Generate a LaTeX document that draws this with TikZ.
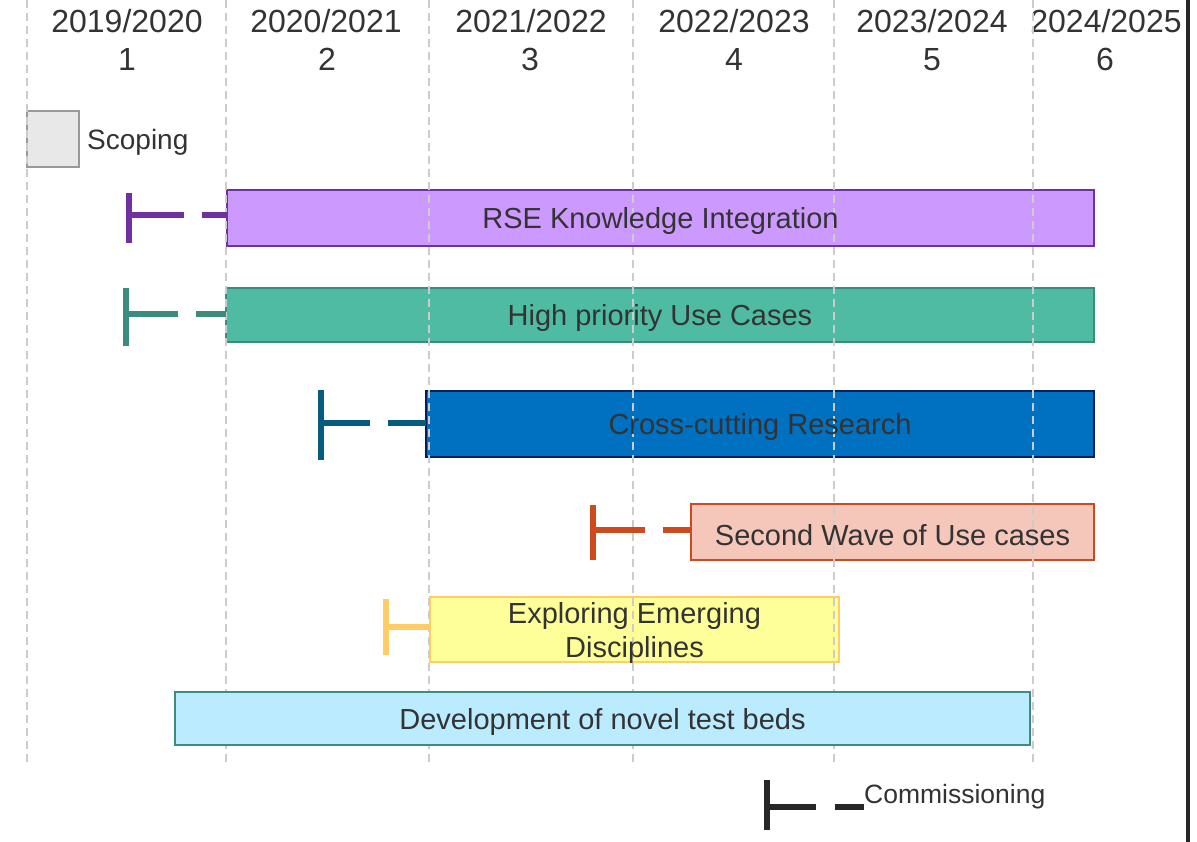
\documentclass[tikz,border=0pt]{standalone}
\usepackage{fontspec}
\setmainfont{Liberation Sans}
\begin{document}
\begin{tikzpicture}[x=1pt,y=-1pt,
  txt/.style={text=txtc, inner sep=0pt},
  hdr/.style={txt, font=\fontsize{32}{38}\selectfont, anchor=base},
  bar/.style={line width=2pt, inner sep=0pt, outer sep=0pt, anchor=north west},
  lbl/.style={text=txtc, font=\fontsize{29}{34}\selectfont, align=center, inner sep=0pt, yshift=-3.5pt},
  grid line/.style={draw=gridc, line width=1.3pt, dash pattern=on 8pt off 5pt},
  whisk/.style={line width=5.5pt},
  tick/.style={line width=6pt}
]
\definecolor{txtc}{HTML}{333333}
\definecolor{gridc}{HTML}{CCCCCC}
\definecolor{purF}{HTML}{CC99FF}\definecolor{purD}{HTML}{7030A0}
\definecolor{tealF}{HTML}{50BBA3}\definecolor{tealD}{HTML}{3A8C7C}
\definecolor{blueF}{HTML}{0070C0}\definecolor{blueD}{HTML}{002060}\definecolor{blueW}{HTML}{065C7E}
\definecolor{salF}{HTML}{F4C7BA}\definecolor{salD}{HTML}{CC4A1E}
\definecolor{yelF}{HTML}{FFFF99}\definecolor{yelD}{HTML}{FFCC66}
\definecolor{cyF}{HTML}{BBEBFF}\definecolor{cyD}{HTML}{3E8C7E}
\definecolor{darkc}{HTML}{262626}
\useasboundingbox (0,0) rectangle (1197,842);
\fill[white] (0,0) rectangle (1197,842);

% headers
\node[hdr] (h1) at (127,33) {2019/2020};
\node[hdr] (h2) at (326,33) {2020/2021};
\node[hdr] (h3) at (531,33) {2021/2022};
\node[hdr] (h4) at (734,33) {2022/2023};
\node[hdr] (h5) at (932,33) {2023/2024};
\node[hdr] (h6) at (1106,33) {2024/2025};
\node[hdr] (n1) at (127,71) {1};
\node[hdr] (n2) at (327,71) {2};
\node[hdr] (n3) at (530,71) {3};
\node[hdr] (n4) at (734,71) {4};
\node[hdr] (n5) at (932,71) {5};
\node[hdr] (n6) at (1105,71) {6};

% scoping legend
\node[draw=black!40, fill=black!9, line width=2pt, minimum width=52pt, minimum height=56pt, inner sep=0pt, anchor=north west] (scope) at (26,110) {};
\node[txt, font=\fontsize{28}{32}\selectfont, anchor=west] (scopet) at (87,142) {Scoping};

% bars
\node[bar, fill=purF, draw=purD, minimum width=867pt, minimum height=56pt] (rse) at (227,190) {};
\node[bar, fill=tealF, draw=tealD, minimum width=868pt, minimum height=54pt] (hp) at (226,288) {};
\node[bar, fill=blueF, draw=blueD, minimum width=668pt, minimum height=66pt] (cc) at (426,391) {};
\node[bar, fill=salF, draw=salD, minimum width=403pt, minimum height=56pt] (sw) at (691,504) {};
\node[bar, fill=yelF, draw=yelD, minimum width=409pt, minimum height=65pt] (exp) at (430,597) {};

% grid lines
\foreach \gx in {27,226,429,633,834,1033}
  \draw[grid line] (\gx,0) -- (\gx,767);

% development bar (over grid)
\node[bar, fill=cyF, draw=cyD, minimum width=855pt, minimum height=53pt] (dev) at (175,692) {};

% bar labels
\node[lbl] (rset) at (rse.center) {RSE Knowledge Integration};
\node[lbl] (hpt) at (hp.center) {High priority Use Cases};
\node[lbl] (cct) at (cc.center) {Cross-cutting Research};
\node[lbl] (swt) at (sw.center) {Second Wave of Use cases};
\node[lbl] (expt) at (exp.center) {Exploring Emerging\\Disciplines};
\node[lbl] (devt) at (dev.center) {Development of novel test beds};

% whiskers
\coordinate (wrse) at (129,215);
\draw[tick, purD] (129,193) -- (129,243);
\draw[whisk, purD, dash pattern=on 55pt off 18pt on 200pt] (wrse) -- (rse.west |- wrse);

\coordinate (whp) at (126,314);
\draw[tick, tealD] (126,288) -- (126,346);
\draw[whisk, tealD, dash pattern=on 52pt off 18pt on 200pt] (whp) -- (hp.west |- whp);

\coordinate (wcc) at (321,423);
\draw[tick, blueW] (321,390) -- (321,460);
\draw[whisk, blueW, dash pattern=on 49pt off 18pt on 200pt] (wcc) -- (cc.west |- wcc);

\coordinate (wsw) at (593,530);
\draw[tick, salD] (593,505) -- (593,560);
\draw[whisk, salD, dash pattern=on 52pt off 18pt on 200pt] (wsw) -- (sw.west |- wsw);

\coordinate (wexp) at (386,627);
\draw[tick, yelD] (386,599) -- (386,655);
\draw[whisk, yelD] (wexp) -- (exp.west |- wexp);

% commissioning legend
\coordinate (wcom) at (767,807);
\coordinate (wcomE) at (864,807);
\draw[tick, darkc] (767,780) -- (767,830);
\draw[whisk, darkc, dash pattern=on 49pt off 19pt on 200pt] (wcom) -- (wcomE);
\node[txt, font=\fontsize{26.5}{30}\selectfont, anchor=base west] (comt) at (864,803) {Commissioning};

% right border
\draw[darkc, line width=4pt] (1188,0) -- (1188,842);
\end{tikzpicture}
\end{document}
